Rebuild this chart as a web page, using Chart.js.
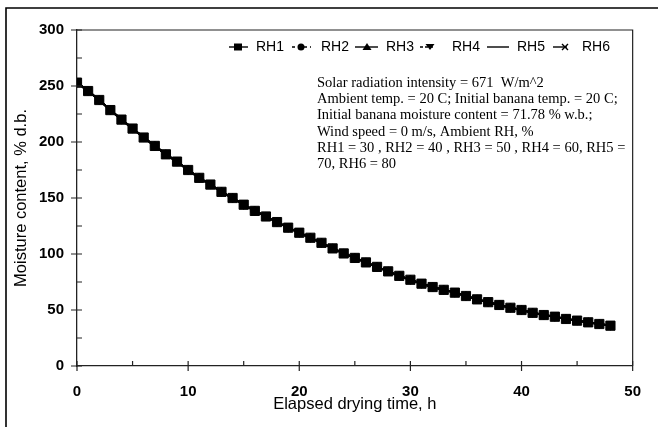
<!DOCTYPE html>
<html>
<head>
<meta charset="utf-8">
<style>
  html, body { margin: 0; padding: 0; background: #fff; }
  #wrap { width: 658px; height: 427px; position: relative; }
</style>
<script src="https://cdn.jsdelivr.net/npm/chart.js@4.4.0/dist/chart.umd.min.js"></script>
</head>
<body>
<div id="wrap"><canvas id="chartSecagem"></canvas></div>
<script>
// elapsed drying time, h
const hours = [0, 1, 2, 3, 4, 5, 6, 7, 8, 9, 10, 11, 12, 13, 14, 15, 16, 17, 18, 19, 20,
    21, 22, 23, 24, 25, 26, 27, 28, 29, 30, 31, 32, 33, 34, 35, 36, 37, 38, 39, 40,
    41, 42, 43, 44, 45, 46, 47, 48];

// moisture content, % d.b. (the six RH curves coincide in the figure)
const moisture = [253, 245.5, 237.5, 228.5, 220, 212, 204, 196.5, 189, 182.5, 175,
    168, 162, 155.5, 150, 144, 138.5, 133.5, 128.5, 123.5, 119,
    114.5, 110, 105, 100.5, 96.5, 92.5, 88.5, 84.5, 80.5, 77,
    73.5, 70.5, 68, 65.5, 62.5, 59.5, 57, 54.5, 52, 50,
    47.5, 45.5, 44, 42, 40.5, 39, 37.5, 36];

const seriesNames = ["RH1", "RH2", "RH3", "RH4", "RH5", "RH6"];
const yTicks = [0, 50, 100, 150, 200, 250, 300];
const xTicks = [0, 10, 20, 30, 40, 50];

const notes = [
    "Solar radiation intensity = 671  W/m^2",
    "Ambient temp. = 20 C; Initial banana temp. = 20 C;",
    "Initial banana moisture content = 71.78 % w.b.;",
    "Wind speed = 0 m/s, Ambient RH, %",
    "RH1 = 30 , RH2 = 40 , RH3 = 50 , RH4 = 60, RH5 =",
    "70, RH6 = 80",
];

const estilos = [
    { pointStyle: "rect", radius: 6.5, dash: [] },
    { pointStyle: "circle", radius: 4, dash: [6, 3, 2, 3] },
    { pointStyle: "triangle", radius: 4.5, dash: [] },
    { pointStyle: "triangle", radius: 4.5, rotation: 180, dash: [5, 3] },
    { pointStyle: false, radius: 0, dash: [] },
    { pointStyle: "crossRot", radius: 4.5, dash: [] },
];

const pontos = hours.map((h, i) => ({ x: h, y: moisture[i] }));

function marcador(ctx, tipo, x, y) {
    ctx.save();
    ctx.fillStyle = "#000";
    ctx.strokeStyle = "#000";
    ctx.lineWidth = 1.4;
    ctx.setLineDash([]);
    ctx.beginPath();
    if (tipo === "rect") {
        ctx.rect(x - 4, y - 3.5, 8, 7);
        ctx.fill();
    } else if (tipo === "circle") {
        ctx.arc(x, y, 3.5, 0, Math.PI * 2);
        ctx.fill();
    } else if (tipo === "triangle") {
        ctx.moveTo(x - 4.5, y + 3);
        ctx.lineTo(x + 4.5, y + 3);
        ctx.lineTo(x, y - 4);
        ctx.closePath();
        ctx.fill();
    } else if (tipo === "triangleDown") {
        ctx.moveTo(x - 4.5, y - 3);
        ctx.lineTo(x + 4.5, y - 3);
        ctx.lineTo(x, y + 3);
        ctx.closePath();
        ctx.fill();
    } else if (tipo === "cross") {
        ctx.moveTo(x - 3, y - 3);
        ctx.lineTo(x + 3, y + 3);
        ctx.moveTo(x + 3, y - 3);
        ctx.lineTo(x - 3, y + 3);
        ctx.stroke();
    }
    ctx.restore();
}

const molduraPlugin = {
    id: "moldura",
    beforeDraw(chart) {
        const ctx = chart.ctx;
        ctx.save();
        ctx.strokeStyle = "#000";
        ctx.lineWidth = 1.6;
        ctx.beginPath();
        ctx.moveTo(6, 427);
        ctx.lineTo(6, 8);
        ctx.lineTo(658, 8);
        ctx.stroke();
        ctx.restore();
    },
    afterDraw(chart) {
        const ctx = chart.ctx;
        const area = chart.chartArea;
        const xs = chart.scales.x;
        const ys = chart.scales.y;

        ctx.save();
        ctx.strokeStyle = "#222";
        ctx.lineWidth = 1.2;
        ctx.beginPath();
        ctx.moveTo(area.left, area.top);
        ctx.lineTo(area.right, area.top);
        ctx.lineTo(area.right, area.bottom);
        ctx.stroke();

        // tick marks: major ones cross the axis, minor ones point inward
        ctx.beginPath();
        for (let v = 0; v <= 300; v += 25) {
            const py = ys.getPixelForValue(v);
            const major = v % 50 === 0;
            ctx.moveTo(area.left - (major ? 6 : 0), py);
            ctx.lineTo(area.left + 5, py);
        }
        for (let v = 0; v <= 50; v += 5) {
            const px = xs.getPixelForValue(v);
            const major = v % 10 === 0;
            ctx.moveTo(px, area.bottom + (major ? 5 : 0));
            ctx.lineTo(px, area.bottom - 5);
        }
        ctx.stroke();

        // legend
        const ly = 47;
        const itens = [
            { x1: 229, x2: 248, m: 238, tipo: "rect", dash: [], tx: 256 },
            { x1: 292, x2: 311, m: 301, tipo: "circle", dash: [3, 3], tx: 321 },
            { x1: 355, x2: 378, m: 367, tipo: "triangle", dash: [], tx: 386 },
            { x1: 420, x2: 434, m: 430, tipo: "triangleDown", dash: [3, 2], tx: 452 },
            { x1: 487, x2: 509, m: null, tipo: null, dash: [], tx: 517 },
            { x1: 553, x2: 567, m: 565, tipo: "cross", dash: [], tx: 582 },
        ];
        ctx.font = "14px 'Liberation Sans', Arial, sans-serif";
        ctx.textBaseline = "middle";
        ctx.textAlign = "left";
        ctx.fillStyle = "#000";
        itens.forEach((it, i) => {
            ctx.save();
            ctx.strokeStyle = "#000";
            ctx.lineWidth = 1.4;
            ctx.setLineDash(it.dash);
            ctx.beginPath();
            ctx.moveTo(it.x1, ly);
            ctx.lineTo(it.x2, ly);
            ctx.stroke();
            ctx.restore();
            if (it.tipo) marcador(ctx, it.tipo, it.m, ly);
            ctx.fillText(seriesNames[i], it.tx, ly);
        });

        // notes
        ctx.font = "14.5px 'Liberation Serif', 'Times New Roman', serif";
        ctx.fillStyle = "#000";
        notes.forEach((linha, i) => {
            ctx.fillText(linha, 317, 83 + i * 16.3);
        });
        ctx.restore();
    },
};

const canvas = document.getElementById("chartSecagem");

new Chart(canvas.getContext("2d"), {
    type: "line",
    data: {
        datasets: seriesNames.map((nome, i) => ({
            label: nome,
            data: pontos,
            borderColor: "#000",
            backgroundColor: "#000",
            borderWidth: 2,
            borderDash: estilos[i].dash,
            pointStyle: estilos[i].pointStyle,
            pointRadius: estilos[i].radius,
            pointRotation: estilos[i].rotation || 0,
            pointBorderWidth: 1,
            pointBackgroundColor: "#000",
            pointBorderColor: "#000",
            tension: 0,
            fill: false,
        })),
    },
    plugins: [molduraPlugin],
    options: {
        responsive: true,
        maintainAspectRatio: false,
        animation: false,
        layout: { padding: { top: 30, right: 15, left: 0, bottom: 0 } },
        plugins: {
            legend: { display: false },
            tooltip: { enabled: false },
        },
        scales: {
            x: {
                type: "linear",
                min: 0,
                max: 50,
                afterBuildTicks(scale) {
                    scale.ticks = xTicks.map((v) => ({ value: v }));
                },
                afterFit(scale) {
                    scale.height = 61;
                },
                grid: { display: false, drawTicks: false },
                border: { display: true, color: "#222", width: 1.3 },
                ticks: {
                    padding: 17,
                    color: "#000",
                    font: { size: 15, weight: "bold", family: "'Liberation Sans', Arial, sans-serif" },
                },
                title: {
                    display: true,
                    text: "Elapsed drying time, h",
                    color: "#000",
                    padding: { top: 0, bottom: 13 },
                    font: { size: 16.5, family: "'Liberation Sans', Arial, sans-serif" },
                },
            },
            y: {
                min: 0,
                max: 300,
                afterBuildTicks(scale) {
                    scale.ticks = yTicks.map((v) => ({ value: v }));
                },
                afterFit(scale) {
                    scale.width = 77;
                },
                grid: { display: false, drawTicks: false },
                border: { display: true, color: "#222", width: 1.3 },
                ticks: {
                    padding: 13,
                    color: "#000",
                    font: { size: 15, weight: "bold", family: "'Liberation Sans', Arial, sans-serif" },
                },
                title: {
                    display: true,
                    text: "Moisture content, % d.b.",
                    color: "#000",
                    padding: { top: 12, bottom: 0 },
                    font: { size: 16.5, family: "'Liberation Sans', Arial, sans-serif" },
                },
            },
        },
    },
});
</script>
</body>
</html>
